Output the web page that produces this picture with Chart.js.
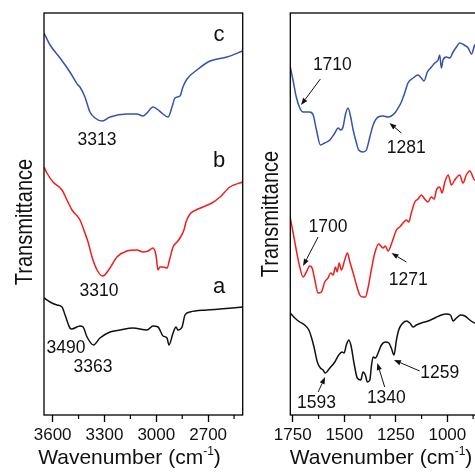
<!DOCTYPE html>
<html>
<head>
<meta charset="utf-8">
<script src="https://cdn.jsdelivr.net/npm/chart.js@4/dist/chart.umd.min.js"></script>
<style>
  html, body { margin: 0; padding: 0; background: #fff; overflow: hidden; width: 475px; height: 473px; }
  canvas { position: absolute; top: 0; }
  #left { left: 0; }
  #right { left: 248px; }
</style>
</head>
<body>
<canvas id="left" width="250" height="473"></canvas>
<canvas id="right" width="240" height="473"></canvas>
<script>
// ---- FTIR spectra, 3650-2500 cm-1 region (offset transmittance, a.u.) ----
const sampleNames = ['a', 'b', 'c'];

const hiWaveA = [3650,3615,3575,3546,3528,3500,3490,3442,3424,3401,3363,3326,3268,3210,3135,3054,3019,2990,2961,2938,2927,2903,2886,2875,2851,2834,2805,2707,2631,2500];
const hiTransA = [117,113,110,108,100,87,86,89,88,78,70,77,83,85,87,85,89,88,79,77,70,82,88,85,88,100,103,105,106,108];

const hiWaveB = [3650,3633,3598,3546,3517,3488,3442,3413,3395,3372,3343,3310,3268,3228,3170,3112,3077,3048,3019,3002,2990,2979,2961,2938,2921,2903,2880,2863,2840,2828,2805,2770,2730,2678,2631,2574,2500];
const hiTransB = [248,242,233,225,215,205,195,182,173,158,145,139,147,158,164,165,163,164,167,160,145,148,148,147,157,168,173,177,185,193,201,205,208,212,218,228,233];

const hiWaveC = [3650,3615,3557,3500,3453,3442,3413,3384,3355,3313,3268,3170,3112,3077,3054,3019,2996,2961,2932,2909,2892,2863,2846,2822,2765,2689,2591,2500];
const hiTransC = [382,370,357,343,330,328,318,303,297,294,298,301,301,299,302,308,306,301,298,308,317,319,328,336,345,354,358,364];

// ---- fingerprint region, 1762-860 cm-1 ----
const loWaveA = [1762,1740,1716,1692,1672,1660,1647,1631,1616,1603,1593,1570,1546,1527,1511,1501,1490,1478,1466,1453,1437,1420,1409,1398,1388,1376,1369,1360,1349,1336,1320,1301,1284,1272,1259,1247,1236,1220,1199,1182,1166,1150,1126,1093,1061,1029,1005,985,972,956,935,915,891,867,860];
const loTransA = [102,97,93,90,85,78,68,53,47,45,42,47,53,60,63,62,70,75,68,52,37,35,43,40,33,35,48,58,57,62,70,73,72,67,60,75,85,91,94,92,88,90,92,94,97,100,101,100,94,97,100,99,95,92,92];

const loWaveB = [1762,1749,1733,1716,1700,1684,1668,1656,1643,1627,1611,1595,1579,1566,1554,1543,1534,1525,1514,1498,1485,1473,1457,1441,1425,1409,1398,1385,1369,1352,1333,1312,1301,1288,1268,1247,1231,1215,1199,1187,1175,1158,1142,1126,1110,1094,1078,1064,1053,1037,1026,1012,996,980,964,940,924,908,891,867,860];
const loTransB = [197,183,165,148,138,143,149,147,135,122,123,133,137,142,140,148,143,152,145,155,162,153,142,130,120,118,118,127,145,162,171,167,169,164,173,185,188,192,195,193,202,213,216,220,216,213,218,216,225,228,222,233,240,230,235,240,232,240,244,235,236];

const loWaveC = [1762,1749,1733,1716,1700,1668,1651,1635,1616,1595,1570,1546,1530,1517,1506,1495,1482,1469,1457,1441,1430,1409,1393,1376,1360,1336,1312,1288,1272,1255,1239,1223,1207,1191,1166,1142,1126,1113,1097,1077,1061,1045,1037,1029,1021,1005,988,972,956,940,919,899,883,867,860];
const loTransC = [348,335,318,307,303,303,300,285,270,272,275,282,287,285,288,300,307,298,285,272,265,263,265,278,290,298,299,298,299,302,307,313,322,332,337,340,337,334,343,348,352,355,360,347,355,358,357,363,368,372,370,367,361,370,371];

// axis tick values
const hiMajorTicks = [3600, 3300, 3000, 2700];
const hiMinorTicks = [3450, 3150, 2850, 2550];
const loMajorTicks = [1750, 1500, 1250, 1000];
const loMinorTicks = [1625, 1375, 1125, 875];

// marked band positions (cm-1)
const hiBands = [3313, 3310, 3490, 3363];
const loBands = [1710, 1281, 1700, 1271, 1593, 1340, 1259];

const FONT = '"Liberation Sans", Arial, Helvetica, sans-serif';
Chart.defaults.font.family = FONT;
const INK = '#111';
const colors = { a: '#111111', b: '#f01e1e', c: '#3553ad' };

function toPoints(wn, tr) { return wn.map((w, i) => ({ x: w, y: tr[i] })); }

// Frame, minor ticks, axis titles, band labels and arrows
const decor = {
  id: 'decor',
  afterDraw(chart, args, o) {
    const { ctx, chartArea: a, scales: { x, y } } = chart;
    ctx.save();
    ctx.strokeStyle = '#000';
    ctx.lineWidth = 1.3;
    ctx.strokeRect(a.left, a.top, a.right - a.left, a.bottom - a.top);

    ctx.lineWidth = 1.2;
    o.minorTicks.forEach(v => {
      const px = x.getPixelForValue(v);
      ctx.beginPath();
      ctx.moveTo(px, a.bottom);
      ctx.lineTo(px, a.bottom + 4);
      ctx.stroke();
    });

    ctx.fillStyle = INK;
    ctx.textAlign = 'center';
    ctx.textBaseline = 'middle';
    o.texts.forEach(t => {
      ctx.font = t.size + 'px ' + FONT;
      ctx.fillText(t.text, x.getPixelForValue(t.x), y.getPixelForValue(t.y));
    });

    ctx.strokeStyle = INK;
    ctx.lineWidth = 1;
    o.arrows.forEach(ar => {
      const x0 = x.getPixelForValue(ar.fromX), y0 = y.getPixelForValue(ar.fromY);
      const x1 = x.getPixelForValue(ar.toX), y1 = y.getPixelForValue(ar.toY);
      const ang = Math.atan2(y1 - y0, x1 - x0);
      const len = 7, half = 2.6;
      const bx = x1 - len * Math.cos(ang), by = y1 - len * Math.sin(ang);
      ctx.beginPath();
      ctx.moveTo(x0, y0);
      ctx.lineTo(bx, by);
      ctx.stroke();
      ctx.beginPath();
      ctx.moveTo(x1, y1);
      ctx.lineTo(bx + half * Math.sin(ang), by - half * Math.cos(ang));
      ctx.lineTo(bx - half * Math.sin(ang), by + half * Math.cos(ang));
      ctx.closePath();
      ctx.fill();
    });

    // vertical "Transmittance" title, set in a condensed width
    ctx.save();
    ctx.translate(o.yTitleX, o.yTitleY);
    ctx.rotate(-Math.PI / 2);
    ctx.scale(0.82, 1);
    ctx.font = '24.5px ' + FONT;
    ctx.fillText('Transmittance', 0, 0);
    ctx.restore();

    // "Wavenumber (cm-1)" with raised exponent
    const t1 = 'Wavenumber (cm', sup = '-1', t2 = ')';
    ctx.textAlign = 'left';
    ctx.textBaseline = 'alphabetic';
    ctx.font = '21px ' + FONT;
    const w1 = ctx.measureText(t1).width, w3 = ctx.measureText(t2).width;
    ctx.font = '12px ' + FONT;
    const w2 = ctx.measureText(sup).width;
    let sx = o.titleX - (w1 + w2 + w3) / 2;
    ctx.font = '21px ' + FONT;
    ctx.fillText(t1, sx, o.titleY);
    ctx.font = '12px ' + FONT;
    ctx.fillText(sup, sx + w1, o.titleY - 9);
    ctx.font = '21px ' + FONT;
    ctx.fillText(t2, sx + w1 + w2, o.titleY);
    ctx.restore();
  }
};

function makePanel(id, p) {
  return new Chart(document.getElementById(id), {
    type: 'line',
    data: {
      datasets: p.series.map(s => ({
        data: s.points,
        borderColor: s.color,
        borderWidth: 1.5,
        pointRadius: 0,
        fill: false,
        cubicInterpolationMode: 'monotone'
      }))
    },
    options: {
      responsive: false,
      animation: false,
      events: [],
      layout: { padding: { left: 0, top: 13, right: p.padRight, bottom: 0 } },
      plugins: {
        legend: { display: false },
        tooltip: { enabled: false },
        decor: {
          minorTicks: p.minorTicks, texts: p.texts, arrows: p.arrows,
          titleX: p.titleX, titleY: 464, yTitleX: p.yTitleX, yTitleY: p.yTitleY
        }
      },
      scales: {
        x: {
          type: 'linear',
          reverse: true,
          min: p.min,
          max: p.max,
          afterFit: s => { s.height = 58; },
          afterBuildTicks: s => { s.ticks = p.majorTicks.map(v => ({ value: v })); },
          grid: { display: true, drawOnChartArea: false, drawTicks: true, tickLength: 7, tickColor: '#000', tickWidth: 1.3 },
          border: { display: false },
          ticks: { autoSkip: false, maxRotation: 0, padding: 3, color: INK, font: { size: 17 }, callback: v => String(v) }
        },
        y: {
          min: 0,
          max: 402,
          afterFit: s => { s.width = p.yWidth; },
          grid: { display: false },
          border: { display: false },
          ticks: { display: false },
          title: { display: false }
        }
      }
    },
    plugins: [decor]
  });
}

// left panel: O-H / N-H / C-H stretching region
makePanel('left', {
  min: 2500, max: 3650, padRight: 7.3, yWidth: 44, titleX: 129.5, yTitleX: 25, yTitleY: 222,
  majorTicks: hiMajorTicks, minorTicks: hiMinorTicks,
  series: [
    { color: colors.c, points: toPoints(hiWaveC, hiTransC) },
    { color: colors.b, points: toPoints(hiWaveB, hiTransB) },
    { color: colors.a, points: toPoints(hiWaveA, hiTransA) }
  ],
  texts: [
    { text: sampleNames[2], x: 2637, y: 380, size: 22 },
    { text: sampleNames[1], x: 2637, y: 254, size: 22 },
    { text: sampleNames[0], x: 2637, y: 128, size: 22 },
    { text: String(hiBands[0]), x: 3343, y: 275, size: 17.5 },
    { text: String(hiBands[1]), x: 3332, y: 124, size: 17.5 },
    { text: String(hiBands[2]), x: 3523, y: 67, size: 17.5 },
    { text: String(hiBands[3]), x: 3366, y: 48, size: 17.5 }
  ],
  arrows: []
});

// right panel: fingerprint region
makePanel('right', {
  min: 860, max: 1762, padRight: 11.8, yWidth: 42.3, titleX: 133, yTitleX: 23, yTitleY: 214,
  majorTicks: loMajorTicks, minorTicks: loMinorTicks,
  series: [
    { color: colors.c, points: toPoints(loWaveC, loTransC) },
    { color: colors.b, points: toPoints(loWaveB, loTransB) },
    { color: colors.a, points: toPoints(loWaveA, loTransA) }
  ],
  texts: [
    { text: String(loBands[0]), x: 1558, y: 350, size: 17.5 },
    { text: String(loBands[1]), x: 1199, y: 267, size: 17.5 },
    { text: String(loBands[2]), x: 1579, y: 188, size: 17.5 },
    { text: String(loBands[3]), x: 1190, y: 135, size: 17.5 },
    { text: String(loBands[4]), x: 1635, y: 12, size: 17.5 },
    { text: String(loBands[5]), x: 1296, y: 17, size: 17.5 },
    { text: String(loBands[6]), x: 1037, y: 42, size: 17.5 }
  ],
  arrows: [
    { fromX: 1616, fromY: 336, toX: loBands[0], toY: 310 },
    { fromX: 1223, fromY: 282, toX: loBands[1], toY: 292 },
    { fromX: 1627, fromY: 178, toX: loBands[2], toY: 149 },
    { fromX: 1199, fromY: 153, toX: loBands[3], toY: 162 },
    { fromX: 1627, fromY: 23, toX: loBands[4], toY: 38 },
    { fromX: 1304, fromY: 28, toX: loBands[5], toY: 52 },
    { fromX: 1134, fromY: 44, toX: loBands[6], toY: 55 }
  ]
});
</script>
</body>
</html>
